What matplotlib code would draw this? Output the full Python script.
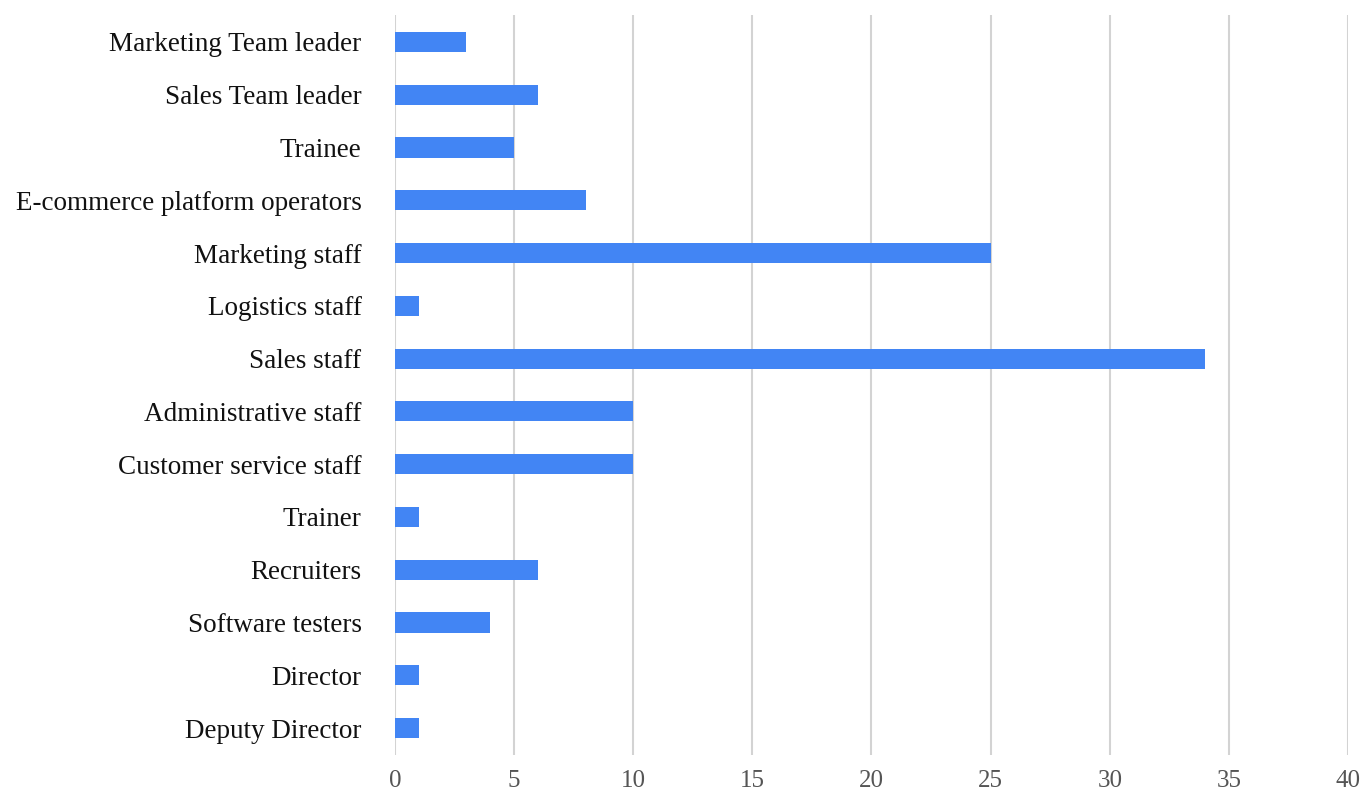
import matplotlib
matplotlib.use("Agg")
import matplotlib.pyplot as plt
import numpy as np

categories = [
    "Marketing Team leader",
    "Sales Team leader",
    "Trainee",
    "E-commerce platform operators",
    "Marketing staff",
    "Logistics staff",
    "Sales staff",
    "Administrative staff",
    "Customer service staff",
    "Trainer",
    "Recruiters",
    "Software testers",
    "Director",
    "Deputy Director",
]
counts = [3, 6, 5, 8, 25, 1, 34, 10, 10, 1, 6, 4, 1, 1]
x_ticks = [0, 5, 10, 15, 20, 25, 30, 35, 40]

plt.rcParams["font.family"] = ["Liberation Serif", "DejaVu Serif"]

fig = plt.figure(figsize=(13.68, 7.98), dpi=100)
ax = fig.add_axes([0.2887, 0.0539, 0.6967, 0.9273])

y = np.arange(len(categories))
ax.barh(y, counts, height=0.38, color="#4285f4", zorder=3)

ax.set_xlim(0, 40)
ax.set_ylim(len(categories) - 0.49, -0.51)
ax.set_xticks(x_ticks)
ax.set_yticks(y)
ax.set_yticklabels(categories, fontsize=19.5, color="#111111")
ax.tick_params(axis="y", length=0, pad=24)
ax.tick_params(axis="x", length=0, pad=11, labelsize=18, labelcolor="#555555")

ax.grid(axis="x", color="#d3d3d3", linewidth=1.5, zorder=0)
for s in ax.spines.values():
    s.set_visible(False)

fig.savefig("out.png", dpi=100, facecolor="white")
